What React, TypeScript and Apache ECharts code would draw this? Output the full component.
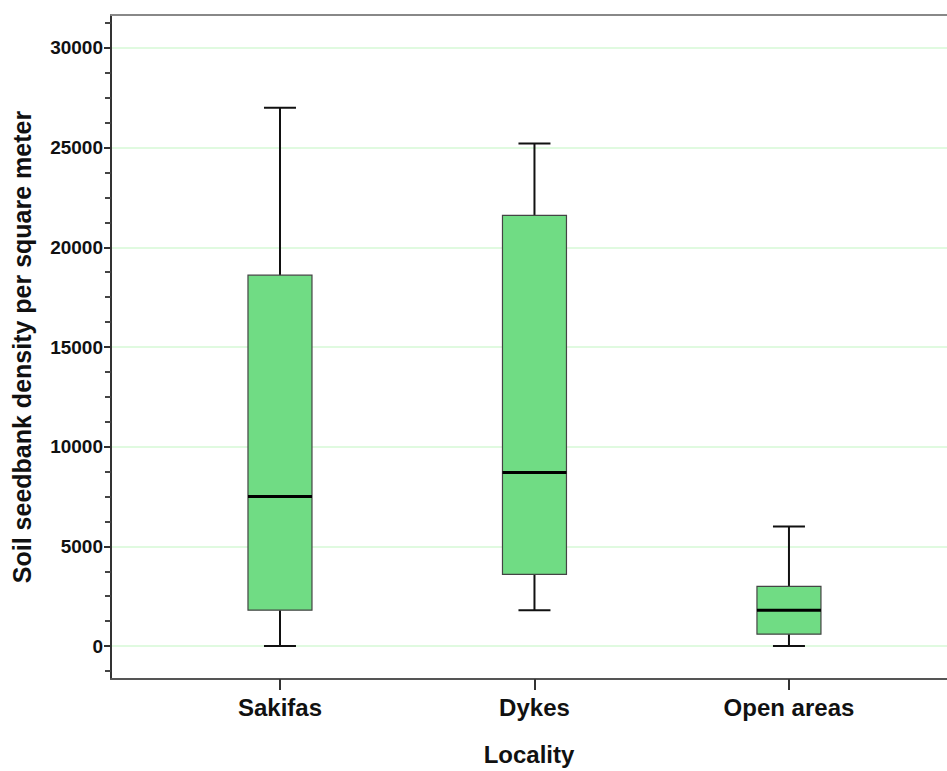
import React, { useEffect, useRef } from "react";
import * as echarts from "echarts";

const categories = ["Sakifas", "Dykes", "Open areas"];
const categoryPositions = [0, 1, 2];
const whiskerLow = [0, 1800, 0];
const quartile1 = [1800, 3600, 600];
const medians = [7500, 8700, 1800];
const quartile3 = [18600, 21600, 3000];
const whiskerHigh = [27000, 25200, 6000];
const yMajorTicks = [0, 5000, 10000, 15000, 20000, 25000, 30000];
const yMinorTicks = [
  -1250, 1250, 2500, 3750, 6250, 7500, 8750, 11250, 12500, 13750, 16250, 17500,
  18750, 21250, 22500, 23750, 26250, 27500, 28750, 31250,
];

const FONT = "'Liberation Sans', Arial, sans-serif";

export default function App() {
  const ref = useRef<HTMLDivElement>(null);
  useEffect(() => {
    if (!ref.current) return;
    const chart = echarts.init(ref.current, null, { renderer: "svg" });
    const data = categories.map((_, i) => [
      categoryPositions[i],
      whiskerLow[i],
      quartile1[i],
      medians[i],
      quartile3[i],
      whiskerHigh[i],
    ]);
    const boxW = 64;
    const capW = 32;
    chart.setOption({
      animation: false,
      backgroundColor: "#ffffff",
      textStyle: { fontFamily: FONT },
      grid: { left: 111, width: 836, top: 15, height: 670, containLabel: false },
      xAxis: [
        {
          type: "value",
          min: -0.664,
          max: 2.621,
          position: "bottom",
          axisLine: { show: true, onZero: false, lineStyle: { color: "#555555", width: 2 } },
          axisTick: {
            show: true,
            customValues: categoryPositions,
            length: 11,
            lineStyle: { color: "#333333", width: 2 },
          },
          axisLabel: {
            show: true,
            customValues: categoryPositions,
            formatter: (v: number) => categories[Math.round(v)] ?? "",
            fontFamily: FONT,
            fontWeight: "bold",
            fontSize: 24,
            color: "#111111",
            margin: 16,
          },
          splitLine: { show: false },
          name: "Locality",
          nameLocation: "middle",
          nameGap: 63,
          nameTextStyle: {
            fontFamily: FONT,
            fontWeight: "bold",
            fontSize: 24,
            color: "#111111",
          },
        },
        {
          type: "value",
          min: -0.664,
          max: 2.621,
          position: "top",
          axisLine: { show: true, onZero: false, lineStyle: { color: "#888888", width: 2 } },
          axisTick: { show: false },
          axisLabel: { show: false },
          splitLine: { show: false },
        },
      ],
      yAxis: [
        {
          type: "value",
          min: -1650,
          max: 31650,
          position: "left",
          axisLine: { show: true, onZero: false, lineStyle: { color: "#333333", width: 2 } },
          axisTick: {
            show: true,
            customValues: yMajorTicks,
            length: 7,
            lineStyle: { color: "#333333", width: 2 },
          },
          axisLabel: {
            show: true,
            customValues: yMajorTicks,
            formatter: (v: number) => String(v),
            fontFamily: FONT,
            fontWeight: "bold",
            fontSize: 19,
            color: "#111111",
            margin: 8,
          },
          splitLine: {
            show: true,
            lineStyle: { color: "#d6f8d6", width: 1.5 },
          },
          name: "Soil seedbank density per square meter",
          nameLocation: "middle",
          nameGap: 77,
          nameTextStyle: {
            fontFamily: FONT,
            fontWeight: "bold",
            fontSize: 25,
            color: "#111111",
          },
        },
        {
          type: "value",
          min: -1650,
          max: 31650,
          position: "left",
          offset: 0,
          axisLine: { show: false, onZero: false },
          axisTick: {
            show: true,
            customValues: yMinorTicks,
            length: 6,
            lineStyle: { color: "#444444", width: 2 },
          },
          axisLabel: { show: false },
          splitLine: { show: false },
        },
      ],
      series: [
        {
          type: "custom",
          xAxisIndex: 0,
          yAxisIndex: 0,
          data,
          encode: { x: 0, y: [1, 2, 3, 4, 5] },
          renderItem: (params: any, api: any) => {
            const x = api.value(0);
            const pLow = api.coord([x, api.value(1)]);
            const pQ1 = api.coord([x, api.value(2)]);
            const pMed = api.coord([x, api.value(3)]);
            const pQ3 = api.coord([x, api.value(4)]);
            const pHigh = api.coord([x, api.value(5)]);
            const cx = pMed[0];
            const whiskerStyle = { stroke: "#111111", lineWidth: 2 };
            return {
              type: "group",
              children: [
                {
                  type: "line",
                  shape: { x1: cx, y1: pQ3[1], x2: cx, y2: pHigh[1] },
                  style: whiskerStyle,
                },
                {
                  type: "line",
                  shape: { x1: cx, y1: pLow[1], x2: cx, y2: pQ1[1] },
                  style: whiskerStyle,
                },
                {
                  type: "line",
                  shape: { x1: cx - capW / 2, y1: pHigh[1], x2: cx + capW / 2, y2: pHigh[1] },
                  style: whiskerStyle,
                },
                {
                  type: "line",
                  shape: { x1: cx - capW / 2, y1: pLow[1], x2: cx + capW / 2, y2: pLow[1] },
                  style: whiskerStyle,
                },
                {
                  type: "rect",
                  shape: { x: cx - boxW / 2, y: pQ3[1], width: boxW, height: pQ1[1] - pQ3[1] },
                  style: { fill: "#70dc84", stroke: "#444444", lineWidth: 1.2 },
                },
                {
                  type: "line",
                  shape: { x1: cx - boxW / 2, y1: pMed[1], x2: cx + boxW / 2, y2: pMed[1] },
                  style: { stroke: "#000000", lineWidth: 3 },
                },
              ],
            };
          },
        },
      ],
    });
    return () => chart.dispose();
  }, []);
  return (
    <div
      ref={ref}
      style={{ position: "fixed", left: 0, top: 0, width: 947, height: 771, background: "#fff" }}
    />
  );
}
